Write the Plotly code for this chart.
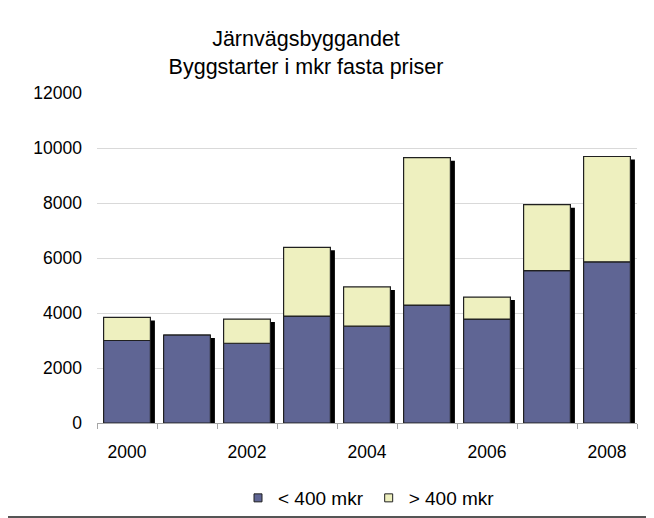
import plotly.graph_objects as go

# ---- data ----
years = [2000, 2001, 2002, 2003, 2004, 2005, 2006, 2007, 2008]
lt400 = [3000, 3200, 2900, 3890, 3520, 4290, 3780, 5540, 5860]
gt400 = [840, 0, 880, 2500, 1430, 5360, 800, 2400, 3830]
series_names = ["< 400 mkr", "> 400 mkr"]
y_ticks = [0, 2000, 4000, 6000, 8000, 10000, 12000]
x_tick_labels = [2000, 2002, 2004, 2006, 2008]
title_text = "Järnvägsbyggandet<br>Byggstarter i mkr fasta priser"

# ---- style ----
W, H = 654, 518
ML, MR, MT, MB = 89, 25, 85, 103
FONT = "Liberation Sans, Arial, sans-serif"
BLUE = "#5F6594"
YELLOW = "#EEF0BF"
EDGE = "#202020"
BAR_W = 0.78
SHADOW_DX = 0.075      # category units
SHADOW_DY = 110        # value units

totals = [a + b for a, b in zip(lt400, gt400)]

fig = go.Figure()
fig.add_trace(go.Bar(
    x=years, y=totals, base=[-SHADOW_DY] * len(years),
    width=BAR_W, offset=-BAR_W / 2 + SHADOW_DX,
    marker=dict(color="black", line=dict(width=0)),
    showlegend=False, hoverinfo="skip"))
fig.add_trace(go.Bar(
    x=years, y=lt400, base=[0] * len(years), width=BAR_W, name=series_names[0],
    marker=dict(color=BLUE, line=dict(color=EDGE, width=1.2)), showlegend=False))
fig.add_trace(go.Bar(
    x=years, y=gt400, base=lt400, width=BAR_W, name=series_names[1],
    marker=dict(color=YELLOW, line=dict(color=EDGE, width=1.2)), showlegend=False))
# legend keys (small squares, like the reference)
for name, col in zip(series_names, [BLUE, YELLOW]):
    fig.add_trace(go.Scatter(
        x=[None], y=[None], mode="markers", name=name,
        marker=dict(symbol="square", size=8, color=col, line=dict(color=EDGE, width=1))))

pw = W - ML - MR
ph = H - MT - MB


def px_x(p):
    return (p - ML) / pw


def px_y(p):
    return (H - MB - p) / ph


fig.update_layout(
    width=W, height=H,
    margin=dict(l=ML, r=MR, t=MT, b=MB, autoexpand=False),
    paper_bgcolor="white", plot_bgcolor="rgba(0,0,0,0)",
    barmode="overlay",
    font=dict(family=FONT, color="black", size=17.5),
    title=dict(text=title_text, x=298 / W, xanchor="center", xref="container",
               y=1 - 38 / H, yanchor="middle", yref="container",
               font=dict(family=FONT, size=21.5, color="black")),
    showlegend=True,
    legend=dict(orientation="h", x=px_x(361), xanchor="center", y=px_y(490), yanchor="middle",
                font=dict(family=FONT, size=19, color="black"),
                bgcolor="rgba(0,0,0,0)", traceorder="normal", itemwidth=30),
    xaxis=dict(range=[years[0] - 0.5, years[-1] + 0.5], tickmode="array",
               tickvals=x_tick_labels, ticktext=[str(v) for v in x_tick_labels],
               ticks="", showgrid=False, zeroline=False, automargin=False,
               showline=True, linecolor="#A6A6A6", linewidth=1,
               ticklabelstandoff=13,
               tickfont=dict(size=17.5),
               minor=dict(tick0=years[0] - 0.5, dtick=1, ticks="outside",
                          ticklen=5, tickcolor="#A6A6A6", showgrid=False)),
    yaxis=dict(range=[0, 12000], tickmode="array", tickvals=y_ticks,
               ticktext=[str(v) for v in y_ticks],
               showgrid=True, gridcolor="#D9D9D9", gridwidth=1, automargin=False,
               zeroline=False, showline=False, ticks="",
               ticklabelstandoff=14, tickfont=dict(size=17.5)),
    shapes=[
        dict(type="line", xref="paper", yref="paper", layer="below",
             x0=px_x(0), x1=px_x(W), y0=px_y(509), y1=px_y(509),
             line=dict(color="#555555", width=2)),
    ],
)

fig.write_html("out.html")
